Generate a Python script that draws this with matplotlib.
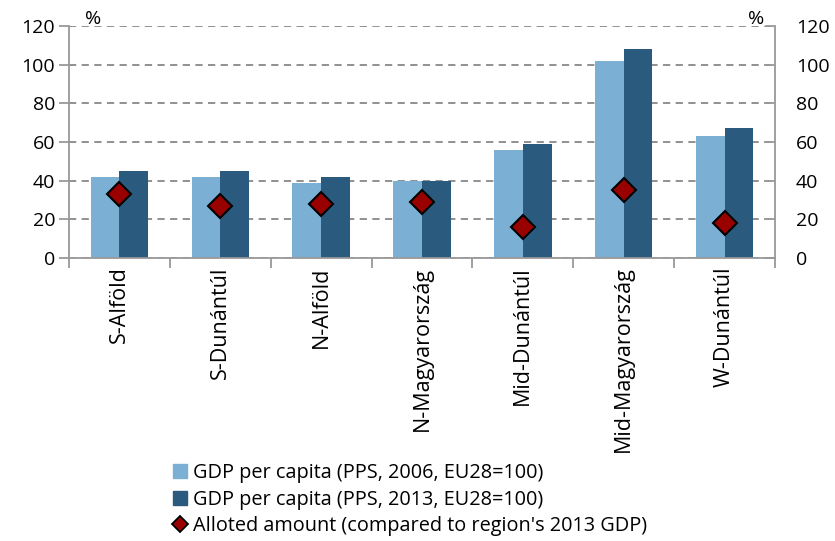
import numpy as np
import matplotlib.pyplot as plt
from matplotlib.patches import Patch
from matplotlib.lines import Line2D

plt.rcParams['font.family'] = ['Open Sans', 'DejaVu Sans']

regions = ["S-Alföld", "S-Dunántúl", "N-Alföld", "N-Magyarország",
           "Mid-Dunántúl", "Mid-Magyarország", "W-Dunántúl"]
gdp_2006 = [42, 42, 39, 40, 56, 102, 63]
gdp_2013 = [45, 45, 42, 40, 59, 108, 67]
alloted = [33, 27, 28, 29, 16, 35, 18]

c_light = "#7BAFD4"
c_dark = "#2A5B7E"
c_dia = "#990000"

fig = plt.figure(figsize=(8.35, 5.41), dpi=100)
ax = fig.add_axes([0.0826, 0.523, 0.8455, 0.429])

x = np.arange(len(regions))
w = 0.285
ax.bar(x - w/2, gdp_2006, w, color=c_light, zorder=2)
ax.bar(x + w/2, gdp_2013, w, color=c_dark, zorder=2)
ax.plot(x, alloted, "D", color=c_dia, markeredgecolor="black",
        markeredgewidth=1.5, markersize=12, linestyle="none", zorder=3)

ax.set_xlim(-0.5, len(regions) - 0.5)
ax.set_ylim(0, 120)
ax.set_yticks(range(0, 121, 20))
ax.yaxis.grid(True, linestyle=(0, (4, 3)), color="#888888", linewidth=1.3, zorder=0)
ax.set_axisbelow(True)

ax.set_xticks(np.arange(-0.5, len(regions), 1))
ax.set_xticklabels([])
ax.set_xticks(x, minor=True)
ax.set_xticklabels(regions, minor=True, rotation=90, fontsize=15.5)
ax.tick_params(axis="x", which="minor", length=0, pad=6)
ax.tick_params(axis="x", which="major", length=7, color="#999999", width=1.3)
ax.tick_params(axis="y", labelsize=14, length=7, color="#999999", width=1.3, pad=3)

ax.spines["top"].set_visible(False)
ax.spines["right"].set_visible(False)
for s in ["left", "bottom"]:
    ax.spines[s].set_color("#999999")
    ax.spines[s].set_linewidth(1.3)

ax2 = ax.twinx()
ax2.set_ylim(0, 120)
ax2.set_yticks(range(0, 121, 20))
ax2.tick_params(axis="y", labelsize=14, length=7, direction="in",
                color="#999999", width=1.3, pad=15)
for s in ["top", "left", "bottom"]:
    ax2.spines[s].set_visible(False)
ax2.spines["right"].set_color("#999999")
ax2.spines["right"].set_linewidth(1.3)

fig.text(0.111, 0.948, "%", fontsize=14, ha="center", va="bottom")
fig.text(0.906, 0.948, "%", fontsize=14, ha="center", va="bottom")

handles = [Patch(color=c_light), Patch(color=c_dark),
           Line2D([], [], marker="D", color=c_dia, markeredgecolor="black",
                  markeredgewidth=1.3, markersize=8, linestyle="none")]
labels = ["GDP per capita (PPS, 2006, EU28=100)",
          "GDP per capita (PPS, 2013, EU28=100)",
          "Alloted amount (compared to region's 2013 GDP)"]
fig.legend(handles, labels, loc="lower left", bbox_to_anchor=(0.198, -0.006),
           frameon=False, fontsize=14.3, handlelength=0.7, handleheight=0.7,
           handletextpad=0.3, labelspacing=0.33, borderaxespad=0)

fig.savefig("out.png", dpi=100)
